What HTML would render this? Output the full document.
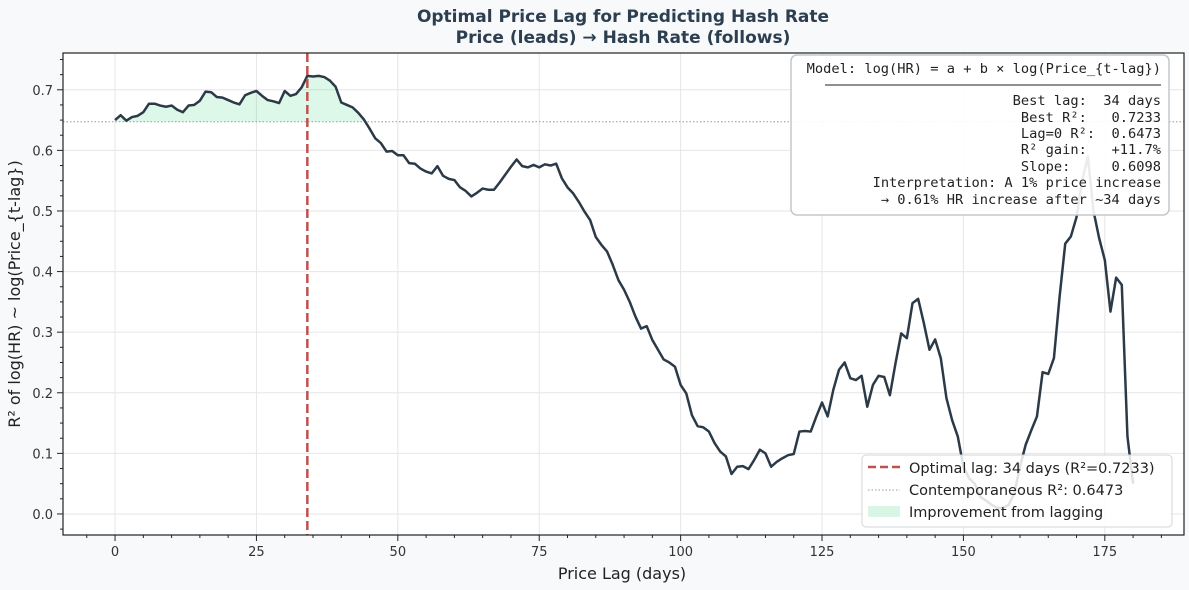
<!DOCTYPE html>
<html><head><meta charset="utf-8">
<style>
html,body{margin:0;padding:0;background:#f7f9fb;}
svg{display:block;font-family:"DejaVu Sans","Liberation Sans",sans-serif;}
svg text{white-space:pre;}
</style></head>
<body>
<svg id="chart" width="1189" height="590" viewBox="0 0 1189 590" xmlns="http://www.w3.org/2000/svg" xml:space="preserve">
<rect x="0" y="0" width="1189" height="590" fill="#f7f9fb"/>
<text x="623" y="22" text-anchor="middle" font-size="17" font-weight="bold" fill="#2c3e50">Optimal Price Lag for Predicting Hash Rate</text>
<text x="623" y="43" text-anchor="middle" font-size="17" font-weight="bold" fill="#2c3e50">Price (leads) → Hash Rate (follows)</text>
<rect x="63" y="53" width="1121" height="482" fill="#ffffff"/>
<g id="grid"></g>
<g id="marks"></g>
<g id="axes"></g>
<text x="622" y="579" text-anchor="middle" font-size="16" fill="#222">Price Lag (days)</text>
<text transform="translate(20,294) rotate(-90)" text-anchor="middle" font-size="16" fill="#222">R² of log(HR) ~ log(Price_{t-lag})</text>
<g>
<rect x="791" y="55" width="378" height="160" rx="6" fill="#ffffff" fill-opacity="0.9" stroke="#c2c8ce" stroke-width="1.5"/>
<g font-family="'DejaVu Sans Mono','Liberation Mono',monospace" font-size="13.7" fill="#222" text-anchor="end">
<text x="1161" y="73">Model: log(HR) = a + b × log(Price_{t-lag})</text>
<line x1="825" y1="85" x2="1161" y2="85" stroke="#222" stroke-width="1"/>
<text x="1161" y="105">Best lag:  34 days</text>
<text x="1161" y="122">Best R²:   0.7233</text>
<text x="1161" y="138">Lag=0 R²:  0.6473</text>
<text x="1161" y="154">R² gain:   +11.7%</text>
<text x="1161" y="171">Slope:     0.6098</text>
<text x="1161" y="187">Interpretation: A 1% price increase</text>
<text x="1161" y="204">→ 0.61% HR increase after ~34 days</text>
</g></g>
<g>
<rect x="862" y="455" width="310" height="72" rx="4" fill="#ffffff" fill-opacity="0.85" stroke="#d0d4d8" stroke-width="1"/>
<line x1="868" y1="467" x2="900" y2="467" stroke="#c0504d" stroke-width="2.5" stroke-dasharray="8,4"/>
<text x="909" y="473" font-size="14.5" fill="#222">Optimal lag: 34 days (R²=0.7233)</text>
<line x1="868" y1="490" x2="900" y2="490" stroke="#999" stroke-width="1" stroke-dasharray="1.5,2"/>
<text x="909" y="495" font-size="14.5" fill="#222">Contemporaneous R²: 0.6473</text>
<rect x="868" y="506" width="32" height="11" fill="#2ecc71" fill-opacity="0.18"/>
<text x="909" y="517" font-size="14.5" fill="#222">Improvement from lagging</text>
</g>
</svg>
<script>
const r2Values = [0.650,0.658,0.649,0.655,0.657,0.663,0.677,0.677,0.674,0.672,0.674,0.667,0.663,0.674,0.675,0.682,0.697,0.696,0.688,0.687,0.683,0.679,0.676,0.691,0.695,0.698,0.690,0.683,0.681,0.678,0.698,0.690,0.693,0.704,0.723,0.722,0.723,0.721,0.715,0.705,0.679,0.675,0.671,0.662,0.651,0.636,0.620,0.612,0.598,0.599,0.592,0.592,0.579,0.578,0.570,0.565,0.562,0.574,0.558,0.553,0.551,0.539,0.533,0.524,0.530,0.537,0.535,0.535,0.547,0.560,0.573,0.585,0.574,0.572,0.576,0.572,0.577,0.575,
0.578,0.554,0.539,0.529,0.515,0.499,0.485,0.457,0.444,0.433,0.411,0.386,0.370,0.350,0.326,0.306,0.310,0.287,0.271,0.255,0.250,0.243,0.213,0.199,0.163,0.145,0.143,0.136,0.117,0.103,0.095,0.066,0.078,0.079,0.074,0.089,0.106,0.100,0.078,0.086,0.092,0.097,0.099,0.136,0.137,0.136,0.161,0.184,0.161,0.205,0.238,0.250,0.224,0.221,0.228,0.177,0.213,0.228,0.226,0.196,0.249,0.298,0.290,0.348,0.355,0.315,0.271,0.288,0.257,0.191,0.155,0.128,0.078,
0.059,0.050,0.028,0.022,0.015,0.010,0.010,0.015,0.034,0.078,0.114,0.138,0.161,0.234,0.231,0.257,0.358,0.446,0.458,0.490,0.550,0.590,0.500,0.455,0.419,0.334,0.390,0.378,0.128,0.050];
const lagDays = r2Values.map((v,i)=>i);
const bestLag = 34;
const baselineR2 = 0.6473;
const xTicks = [0,25,50,75,100,125,150,175];
const yTicks = [0.0,0.1,0.2,0.3,0.4,0.5,0.6,0.7];

const PL=63,PR=1184,PT=53,PB=535;
const X0=-9.2,X1=189.0,Y0=-0.0347,Y1=0.7607;
const sx=d=>PL+(d-X0)/(X1-X0)*(PR-PL);
const sy=v=>PB-(v-Y0)/(Y1-Y0)*(PB-PT);
const NS="http://www.w3.org/2000/svg";
function mk(tag,attrs,parent){const e=document.createElementNS(NS,tag);for(const k in attrs)e.setAttribute(k,attrs[k]);parent.appendChild(e);return e;}
const grid=document.getElementById('grid'),marks=document.getElementById('marks'),axes=document.getElementById('axes');

xTicks.forEach(t=>{
  const l=mk('line',{x1:sx(t),x2:sx(t),y1:PT,y2:PB,stroke:'#e6e6e6','stroke-width':1},grid);
  
  
  mk('line',{x1:sx(t),x2:sx(t),y1:PB,y2:PB+6,stroke:'#222','stroke-width':1},axes);
  const tx=mk('text',{x:sx(t),y:PB+21,'text-anchor':'middle','font-size':13,fill:'#333'},axes);
  tx.textContent=t;
  
  
});
for(let m=-5;m<=185;m+=5){ if(m%25===0)continue; mk('line',{x1:sx(m),x2:sx(m),y1:PB,y2:PB+3,stroke:'#222','stroke-width':1},axes); }
yTicks.forEach(t=>{
  const l=mk('line',{x1:PL,x2:PR,y1:sy(t),y2:sy(t),stroke:'#e6e6e6','stroke-width':1},grid);
  
  
  mk('line',{x1:PL-6,x2:PL,y1:sy(t),y2:sy(t),stroke:'#222','stroke-width':1},axes);
  const tx=mk('text',{x:PL-10,y:sy(t)+5,'text-anchor':'end','font-size':13,fill:'#333'},axes);
  tx.textContent=t.toFixed(1);
  
  
});
for(let m=-0.025;m<=0.76;m+=0.025){ const mm=Math.round(m*1000)/1000; if(Math.abs(mm*10-Math.round(mm*10))<1e-6)continue; mk('line',{x1:PL-3,x2:PL,y1:sy(mm),y2:sy(mm),stroke:'#222','stroke-width':1},axes); }

let segs=[],cur=null;
for(let i=0;i<r2Values.length;i++){
  if(r2Values[i]>=baselineR2){ if(!cur){cur=[];segs.push(cur);} cur.push(i);} else cur=null;
}
segs.forEach(s=>{
  let d='M'+sx(lagDays[s[0]])+','+sy(baselineR2);
  s.forEach(i=>d+=' L'+sx(lagDays[i])+','+sy(r2Values[i]));
  const last=s[s.length-1];
  if(last+1<r2Values.length){const a=r2Values[last],b=r2Values[last+1];const f=(a-baselineR2)/(a-b);const xd=lagDays[last]+f;d+=' L'+sx(xd)+','+sy(baselineR2);}
  d+=' Z';
  const p=mk('path',{d:d,fill:'#2ecc71','fill-opacity':0.16,stroke:'none'},marks);
  
  
});
const bl=mk('line',{x1:PL,x2:PR,y1:sy(baselineR2),y2:sy(baselineR2),stroke:'#999','stroke-width':1,'stroke-dasharray':'1.5,2'},marks);


const line=mk('polyline',{points:r2Values.map((v,i)=>sx(lagDays[i])+','+sy(v)).join(' '),fill:'none',stroke:'#2c3a47','stroke-width':2.5,'stroke-linejoin':'round'},marks);


const vl=mk('line',{x1:sx(bestLag),x2:sx(bestLag),y1:PT,y2:PB,stroke:'#c0504d','stroke-width':2.5,'stroke-dasharray':'9,4'},marks);


const fr=mk('rect',{x:PL,y:PT,width:PR-PL,height:PB-PT,fill:'none',stroke:'#222','stroke-width':1.2},axes);


</script>
</body></html>
